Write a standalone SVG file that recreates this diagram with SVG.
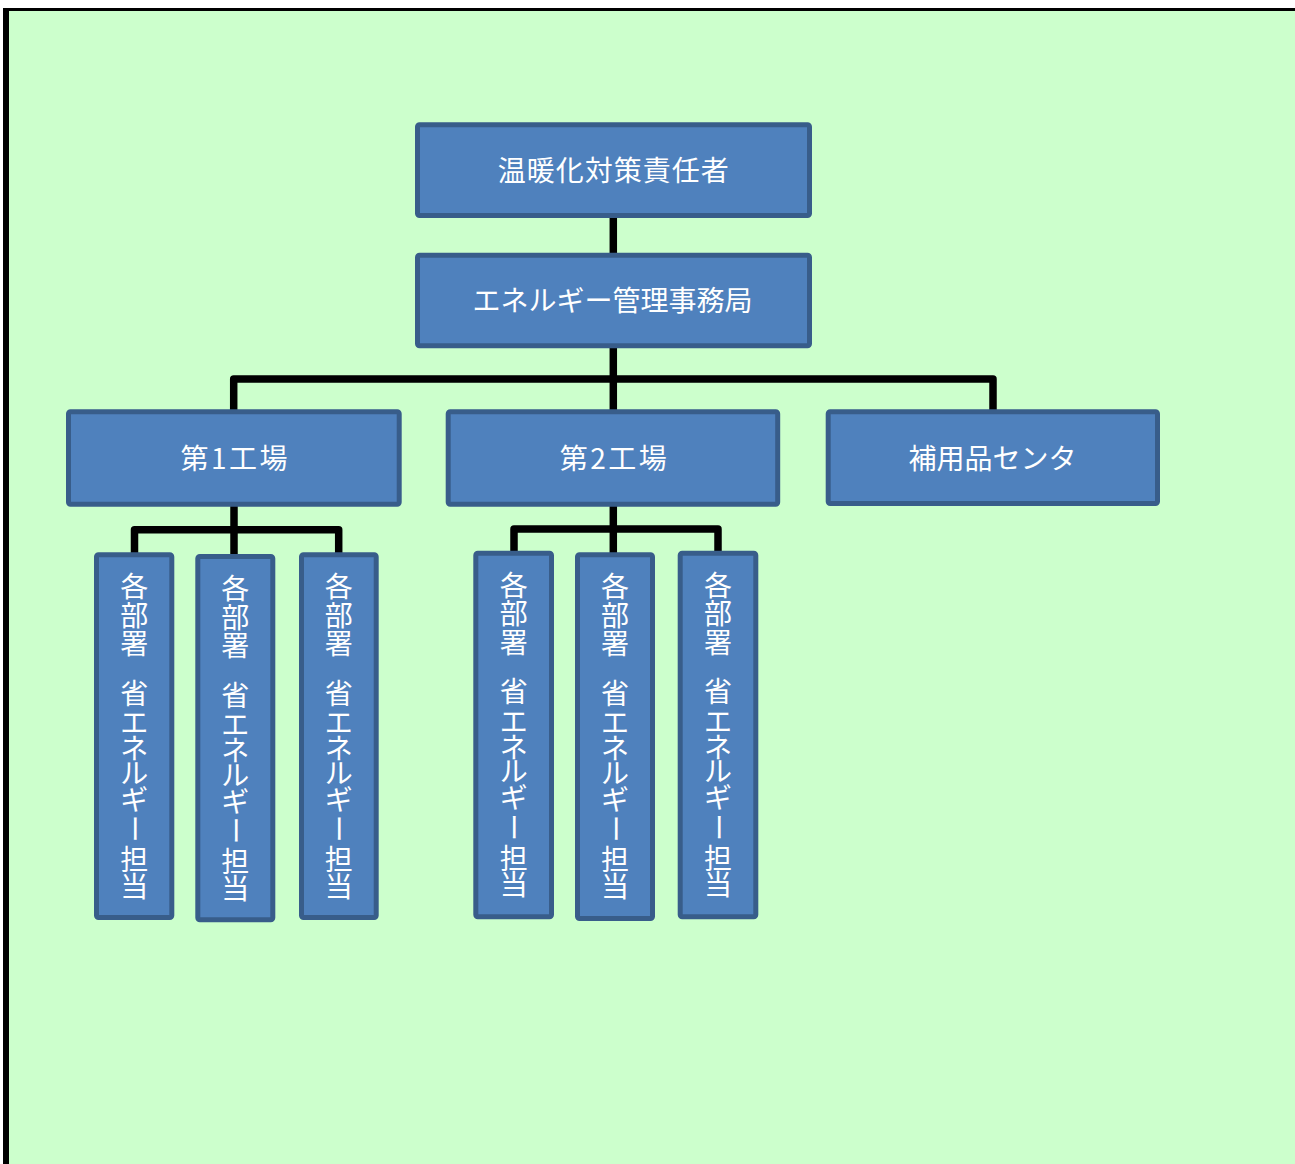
<svg xmlns="http://www.w3.org/2000/svg" width="1295" height="1164" viewBox="0 0 1295 1164">
<style>
.box{fill:#4F81BD;stroke:#385D8A;stroke-width:5}
.lbl{fill:#FFFFFF;font-family:"Noto Sans CJK JP","Noto Sans",sans-serif;font-size:28px;text-anchor:middle}
.con{fill:none;stroke:#000000;stroke-width:7.5;stroke-linejoin:round}
</style>
<rect x="0" y="0" width="1295" height="1164" fill="#FFFFFF"/>
<rect x="3" y="8" width="1292" height="1156" fill="#000000"/>
<rect x="9" y="11" width="1286" height="1153" fill="#CCFFCC"/>
<g id="connectors">
<path class="con" d="M613.3,216 V255"/>
<path class="con" d="M613.3,346 V412"/>
<path class="con" d="M233.7,412 V379 H993 V412"/>
<path class="con" d="M234,504 V558"/>
<path class="con" d="M134.5,555 V529.7 H338.7 V555"/>
<path class="con" d="M613.3,504 V554"/>
<path class="con" d="M514,552 V529 H718 V552"/>
</g>
<g id="n_top">
<rect class="box" x="417.5" y="124.8" width="392" height="90.7" rx="2"/>
<text class="lbl" x="613.8" y="181" letter-spacing="1">温暖化対策責任者</text>
</g>
<g id="n_office">
<rect class="box" x="417.5" y="255.2" width="392" height="90.6" rx="2"/>
<text class="lbl" x="612.5" y="311.3">エネルギー管理事務局</text>
</g>
<g id="n_plant1">
<rect class="box" x="68.5" y="411.8" width="330.7" height="92.4" rx="2"/>
<text class="lbl" x="235.2" y="468.8" letter-spacing="2.5">第1工場</text>
</g>
<g id="n_plant2">
<rect class="box" x="448.2" y="411.8" width="329.5" height="92.4" rx="2"/>
<text class="lbl" x="614.5" y="468.8" letter-spacing="2.5">第2工場</text>
</g>
<g id="n_parts">
<rect class="box" x="828.2" y="411.8" width="329.3" height="91.7" rx="2"/>
<text class="lbl" x="992.5" y="469">補用品センタ</text>
</g>
<g id="n_p1_a">
<rect class="box" x="96.5" y="554.8" width="75.3" height="362.7" rx="2"/>
<text class="lbl" transform="translate(134.2,552.3)" x="0 0 0 0 0 0 0 0 0 3.6 0 0" y="45.2 73.7 102.2 126.5 151.5 181 207.2 231.5 257.5 262.5 318.2 344.7" rotate="0 0 0 0 0 0 0 0 0 90 0 0">各部署　省エネルギー担当</text>
</g>
<g id="n_p1_b">
<rect class="box" x="197.8" y="556.5" width="75" height="363.3" rx="2"/>
<text class="lbl" transform="translate(235.3,554)" x="0 0 0 0 0 0 0 0 0 3.6 0 0" y="45.2 73.7 102.2 126.5 151.5 181 207.2 231.5 257.5 262.5 318.2 344.7" rotate="0 0 0 0 0 0 0 0 0 90 0 0">各部署　省エネルギー担当</text>
</g>
<g id="n_p1_c">
<rect class="box" x="301.5" y="554.8" width="74.7" height="362.7" rx="2"/>
<text class="lbl" transform="translate(338.8,552.3)" x="0 0 0 0 0 0 0 0 0 3.6 0 0" y="45.2 73.7 102.2 126.5 151.5 181 207.2 231.5 257.5 262.5 318.2 344.7" rotate="0 0 0 0 0 0 0 0 0 90 0 0">各部署　省エネルギー担当</text>
</g>
<g id="n_p2_a">
<rect class="box" x="475.8" y="553.2" width="75.7" height="363.6" rx="2"/>
<text class="lbl" transform="translate(513.7,550.7)" x="0 0 0 0 0 0 0 0 0 3.6 0 0" y="45.2 73.7 102.2 126.5 151.5 181 207.2 231.5 257.5 262.5 318.2 344.7" rotate="0 0 0 0 0 0 0 0 0 90 0 0">各部署　省エネルギー担当</text>
</g>
<g id="n_p2_b">
<rect class="box" x="577.5" y="554.8" width="75" height="363.7" rx="2"/>
<text class="lbl" transform="translate(615,552.3)" x="0 0 0 0 0 0 0 0 0 3.6 0 0" y="45.2 73.7 102.2 126.5 151.5 181 207.2 231.5 257.5 262.5 318.2 344.7" rotate="0 0 0 0 0 0 0 0 0 90 0 0">各部署　省エネルギー担当</text>
</g>
<g id="n_p2_c">
<rect class="box" x="680.2" y="553.2" width="75.6" height="363.6" rx="2"/>
<text class="lbl" transform="translate(718,550.7)" x="0 0 0 0 0 0 0 0 0 3.6 0 0" y="45.2 73.7 102.2 126.5 151.5 181 207.2 231.5 257.5 262.5 318.2 344.7" rotate="0 0 0 0 0 0 0 0 0 90 0 0">各部署　省エネルギー担当</text>
</g>
</svg>
